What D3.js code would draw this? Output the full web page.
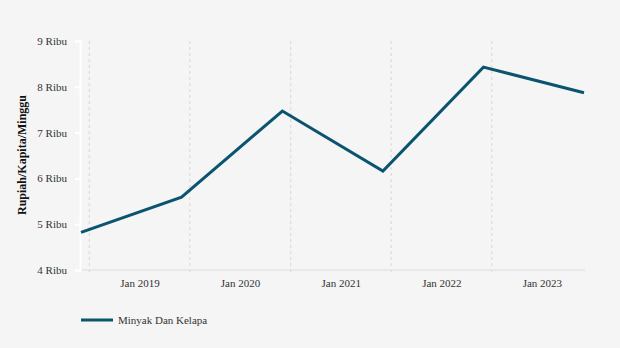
<!DOCTYPE html>
<html><head><meta charset="utf-8">
<script src="https://cdn.jsdelivr.net/npm/d3@7"></script>
<style>html,body{margin:0;padding:0;background:#f5f5f5;}svg{display:block;}</style>
</head><body>
<svg id="c" width="620" height="348"></svg>
<script>
const seriesName = "Minyak Dan Kelapa";
const dates = ["2018-06-01","2019-06-01","2020-06-01","2021-06-01","2022-06-01","2023-06-01"];
const values = [4.82, 5.59, 7.47, 6.16, 8.43, 7.87];
const labelTicks = ["2019-01-01","2020-01-01","2021-01-01","2022-01-01","2023-01-01"];
const gridTicks = ["2018-07-01","2019-07-01","2020-07-01","2021-07-01","2022-07-01"];
const yTicks = [4,5,6,7,8,9];
const yAxisTitle = "Rupiah/Kapita/Minggu";

const parse = d3.utcParse("%Y-%m-%d");
const fmt = d3.utcFormat("%b %Y");
const svg = d3.select("#c");
svg.append("rect").attr("width",620).attr("height",348).attr("fill","#f5f5f5");

const x = d3.scaleUtc().domain([parse(dates[0]), parse(dates[dates.length-1])]).range([81,584]);
const y = d3.scaleLinear().domain([4,9]).range([270,41]);
const font = "'Liberation Serif','Times New Roman',serif";

// grid lines
svg.append("g").selectAll("line").data(gridTicks).join("line")
  .attr("x1",d=>x(parse(d))).attr("x2",d=>x(parse(d)))
  .attr("y1",41).attr("y2",275)
  .attr("stroke","#dcdcdc").attr("stroke-width",1.2).attr("stroke-dasharray","3,3");

// x axis line
svg.append("line").attr("x1",80).attr("x2",585).attr("y1",270).attr("y2",270)
  .attr("stroke","#e4e4e4").attr("stroke-width",1.5);

// x labels
svg.append("g").selectAll("text").data(labelTicks).join("text")
  .attr("x",d=>x(parse(d))).attr("y",287).attr("text-anchor","middle")
  .attr("font-family",font).attr("font-size",11).attr("fill","#333")
  .text(d=>fmt(parse(d)));

// y axis
const yAxis = d3.axisLeft(y).tickValues(yTicks).tickSize(5).tickPadding(8).tickFormat(d=>d+" Ribu");
const ya = svg.append("g").attr("transform","translate(80,0)").call(yAxis);
ya.select(".domain").attr("stroke","#ffffff").attr("stroke-width",2);
ya.selectAll(".tick line").attr("stroke","#ffffff").attr("stroke-width",2);
ya.selectAll(".tick text").attr("font-family",font).attr("font-size",11).attr("fill","#333");

svg.append("text").attr("transform","translate(26,155) rotate(-90)")
  .attr("text-anchor","middle").attr("font-family",font).attr("font-size",12)
  .attr("font-weight","bold").attr("fill","#111").text(yAxisTitle);

// line
const data = dates.map((d,i)=>({d:parse(d), v:values[i]}));
svg.append("path").datum(data)
  .attr("fill","none").attr("stroke","#0b5470").attr("stroke-width",3)
  .attr("stroke-linejoin","miter")
  .attr("d", d3.line().x(p=>x(p.d)).y(p=>y(p.v)));

// legend
svg.append("line").attr("x1",81).attr("x2",113).attr("y1",320).attr("y2",320)
  .attr("stroke","#0b5470").attr("stroke-width",3);
svg.append("text").attr("x",118).attr("y",324).attr("font-family",font)
  .attr("font-size",11).attr("fill","#333").text(seriesName);
</script>
</body></html>
